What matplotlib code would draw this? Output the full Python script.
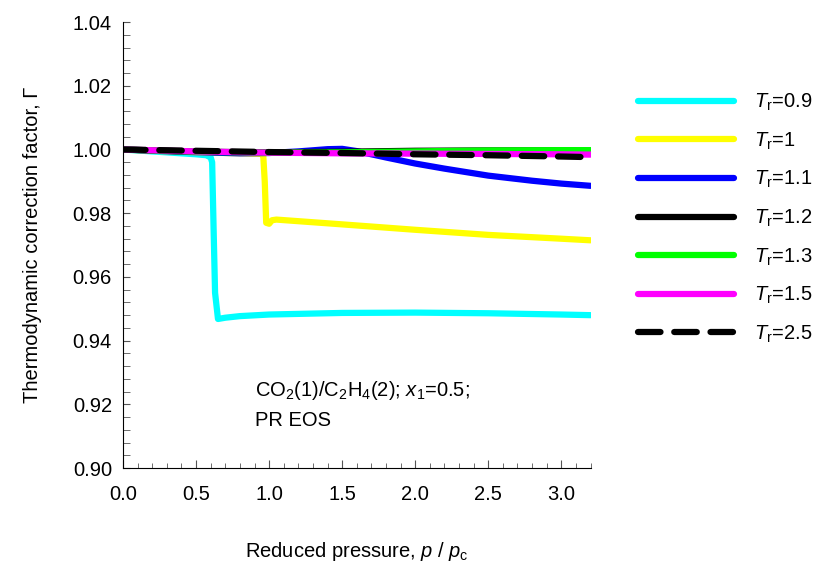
import matplotlib
matplotlib.use("Agg")
import matplotlib.pyplot as plt
from matplotlib.ticker import MultipleLocator

plt.rcParams["font.family"] = ["Liberation Sans", "DejaVu Sans"]
plt.rcParams["mathtext.fontset"] = "custom"
plt.rcParams["mathtext.rm"] = "Liberation Sans"
plt.rcParams["mathtext.it"] = "Liberation Sans:italic"

# Tr = 0.9
p_09 = [0.0, 0.1, 0.2, 0.3, 0.4, 0.5, 0.57, 0.6, 0.61, 0.62, 0.63, 0.65, 0.7, 0.8, 1.0, 1.5, 2.0, 2.5, 3.0, 3.2]
g_09 = [1.0, 0.9997, 0.9994, 0.9991, 0.9988, 0.9985, 0.9982, 0.9975, 0.996, 0.975, 0.955, 0.9468, 0.9472, 0.9477, 0.9482, 0.9487, 0.9488, 0.9486, 0.9482, 0.948]
# Tr = 1
p_10 = [0.0, 0.2, 0.4, 0.6, 0.8, 0.95, 0.96, 0.97, 0.98, 1.0, 1.02, 1.05, 1.2, 1.5, 2.0, 2.5, 3.0, 3.2]
g_10 = [1.0, 0.9996, 0.9993, 0.999, 0.9988, 0.9986, 0.998, 0.99, 0.977, 0.9767, 0.9778, 0.978, 0.9775, 0.9765, 0.9748, 0.9732, 0.972, 0.9715]
# Tr = 1.1
p_11 = [0.0, 0.4, 0.8, 1.0, 1.2, 1.4, 1.5, 1.6, 1.8, 2.0, 2.2, 2.5, 2.8, 3.0, 3.2]
g_11 = [1.0, 0.9993, 0.9988, 0.9989, 0.9994, 1.0001, 1.0002, 0.9995, 0.9975, 0.9956, 0.994, 0.9918, 0.9902, 0.9893, 0.9886]
# Tr = 1.2
p_12 = [0.0, 0.5, 1.0, 1.5, 2.0, 2.5, 3.0, 3.2]
g_12 = [1.0, 0.9993, 0.9991, 0.9993, 0.9996, 0.9997, 0.9997, 0.9996]
# Tr = 1.3
p_13 = [0.0, 0.5, 1.0, 1.5, 2.0, 2.5, 3.0, 3.2]
g_13 = [1.0, 0.9993, 0.999, 0.9991, 0.9994, 0.9997, 0.9998, 0.9998]
# Tr = 1.5
p_15 = [0.0, 0.5, 1.0, 1.5, 2.0, 2.5, 3.0, 3.2]
g_15 = [1.0, 0.9994, 0.999, 0.9988, 0.9987, 0.9986, 0.9985, 0.9984]
# Tr = 2.5
p_25 = [0.0, 0.5, 1.0, 1.5, 2.0, 2.5, 3.0, 3.2]
g_25 = [1.0, 0.9996, 0.9992, 0.9989, 0.9985, 0.9982, 0.9978, 0.9976]

series = [
    (p_09, g_09, "#00ffff", "-", "0.9"),
    (p_10, g_10, "#ffff00", "-", "1"),
    (p_11, g_11, "#0000ff", "-", "1.1"),
    (p_12, g_12, "#000000", "-", "1.2"),
    (p_13, g_13, "#00ff00", "-", "1.3"),
    (p_15, g_15, "#ff00ff", "-", "1.5"),
    (p_25, g_25, "#000000", "--", "2.5"),
]

FS = 14.5

fig = plt.figure(figsize=(8.23, 5.66), dpi=100)
ax = fig.add_axes([0.1495, 0.173, 0.568, 0.788])

for p, g, color, ls, tr in series:
    kw = dict(color=color, lw=4.5, solid_capstyle="round", dash_capstyle="round",
              label=r"$T_\mathrm{r}$=" + tr)
    if ls == "--":
        kw["dashes"] = (3.6, 2.2)
    ax.plot(p, g, **kw)

ax.set_xlim(0, 3.2)
ax.set_ylim(0.90, 1.04)
ax.xaxis.set_major_locator(MultipleLocator(0.5))
ax.xaxis.set_minor_locator(MultipleLocator(0.1))
ax.yaxis.set_major_locator(MultipleLocator(0.02))
ax.yaxis.set_minor_locator(MultipleLocator(0.004))
ax.xaxis.set_major_formatter(matplotlib.ticker.FormatStrFormatter("%.1f"))
ax.yaxis.set_major_formatter(matplotlib.ticker.FormatStrFormatter("%.2f"))

for s in ["top", "right"]:
    ax.spines[s].set_visible(False)
ax.tick_params(which="both", direction="in", colors="#555555", labelcolor="black", labelsize=FS)
ax.tick_params(axis="x", which="major", length=6, pad=12)
ax.tick_params(axis="x", which="minor", length=3.5)
ax.tick_params(axis="y", which="both", length=5, pad=8)

ax.set_xlabel(r"Reduced pressure, $p$ / $p_\mathrm{c}$", fontsize=FS, labelpad=26)
ax.set_ylabel("Thermodynamic correction factor, Γ", fontsize=FS, labelpad=22)

ax.text(0.9, 0.9245, "CO$_2$(1)/C$_2$H$_4$(2); $x_1$=0.5;", fontsize=FS, va="center")
ax.text(0.9, 0.9150, "PR EOS", fontsize=FS, va="center")

ax.legend(loc="upper left", bbox_to_anchor=(0.765, 0.852), bbox_transform=fig.transFigure,
          frameon=False, fontsize=FS, handlelength=4.8, handletextpad=1.0,
          labelspacing=0.86, borderaxespad=0)

fig.savefig("out.png", dpi=100, facecolor="white")
